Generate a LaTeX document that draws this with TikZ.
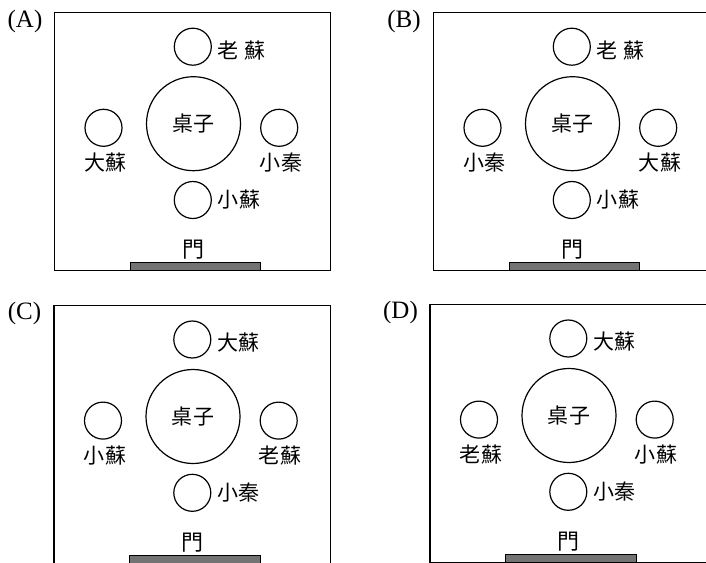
\documentclass[tikz,border=0pt]{standalone}
\usepackage{fontspec}
\setmainfont{Liberation Serif}
\newfontfamily\cjk{Noto Sans CJK TC}
\usetikzlibrary{positioning}
\tikzset{
  roomframe/.style={line width=1.2pt},
  seat/.style={circle,draw,line width=1.2pt,minimum size=37pt,inner sep=0pt},
  desk/.style={circle,draw,line width=1.2pt,minimum size=94pt,inner sep=0pt,font=\cjk\fontsize{21}{21}\selectfont},
  seatname/.style={inner sep=0pt,font=\cjk\fontsize{21}{21}\selectfont},
  door/.style={draw,line width=1pt,fill=black!55}
}
% #1 shift, #2 letter, #3 top, #4 left, #5 right, #6 bottom
\newcommand{\seating}[6]{%
\begin{scope}[shift={#1}]
\draw[roomframe] (54.5,12.7) rectangle (330.7,270.7);
\draw[door] (130,262.7) rectangle (260.7,270.7);
\node[font=\fontsize{25}{25}\selectfont] (#2lab) at (25,21) {(#2)};
\node[desk] (#2desk) at (193.5,123.7) {\raisebox{-3pt}{桌\hspace{0.7pt}子}};
\node[seat] (#2top) at (192.8,46.7) {};
\node[seat] (#2left) at (103.5,127.8) {};
\node[seat] (#2right) at (279.2,127.8) {};
\node[seat] (#2bottom) at (192.8,200) {};
\node[seatname,right=5.5pt of #2top,yshift=-3.5pt] (#2ntop) {#3};
\node[seatname,below=6pt of #2left,xshift=2pt] (#2nleft) {#4};
\node[seatname,below=6pt of #2right,xshift=1.5pt] (#2nright) {#5};
\node[seatname,right=5.5pt of #2bottom] (#2nbottom) {#6};
\node[seatname,font=\cjk\fontsize{22}{22}\selectfont] (#2door) at (193,250) {門};
\end{scope}}
\begin{document}
\begin{tikzpicture}[x=1pt,y=-1pt]
\useasboundingbox (0,0) rectangle (706,562);
\seating{(0,0)}{A}{老\hspace{5.7pt}蘇}{大\hspace{0.7pt}蘇}{小\hspace{0.7pt}秦}{小\hspace{0.7pt}蘇}
\seating{(379,0)}{B}{老\hspace{5.7pt}蘇}{小\hspace{0.7pt}秦}{大\hspace{0.7pt}蘇}{小\hspace{0.7pt}蘇}
\seating{(-0.5,292.8)}{C}{大\hspace{0.7pt}蘇}{小\hspace{0.7pt}蘇}{老\hspace{0.7pt}蘇}{小\hspace{0.7pt}秦}
\seating{(375.5,291.8)}{D}{大\hspace{0.7pt}蘇}{老\hspace{0.7pt}蘇}{小\hspace{0.7pt}蘇}{小\hspace{0.7pt}秦}
\end{tikzpicture}
\end{document}
